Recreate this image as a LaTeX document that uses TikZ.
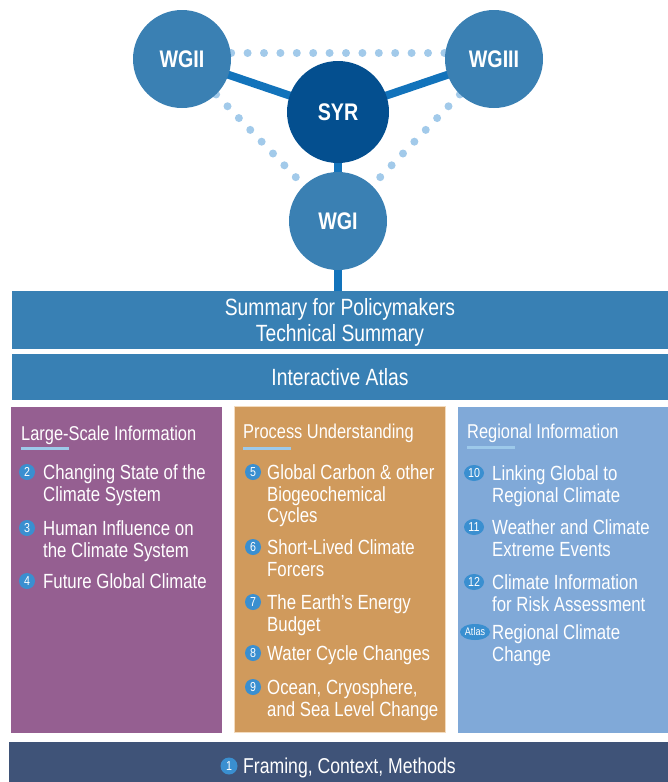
\documentclass[tikz,border=0pt]{standalone}
\usepackage{fontspec}
\setmainfont[FakeStretch=0.82]{Liberation Sans}
\usetikzlibrary{shapes.geometric,backgrounds}
\definecolor{barblue}{HTML}{3880B4}
\definecolor{circblue}{HTML}{3A80B3}
\definecolor{syrblue}{HTML}{044F8F}
\definecolor{linkblue}{HTML}{1273BB}
\definecolor{dotblue}{HTML}{A2CAEA}
\definecolor{colpurple}{HTML}{955F91}
\definecolor{colorange}{HTML}{D09A5C}
\definecolor{collblue}{HTML}{80A9D8}
\definecolor{navy}{HTML}{3F5378}
\definecolor{bulletblue}{HTML}{3A8FD0}
\definecolor{ulblue}{HTML}{9DC9EA}
\definecolor{orangeedge}{HTML}{F3DBBE}
\newcommand\mlines[1]{\begin{tabular}[t]{@{}l@{}}#1\end{tabular}}
\tikzset{
  wg/.style={circle, fill=circblue, text=white, inner sep=0pt, minimum size=98pt,
    font=\bfseries\fontsize{24}{24}\selectfont},
  solidlink/.style={draw=linkblue, line width=8pt},
  dotlink/.style={draw=dotblue, line width=8pt, line cap=round, dash pattern=on 0pt off 16.4pt},
  bar/.style={rectangle, fill=barblue, text=white, inner sep=0pt, align=center,
    font=\fontsize{23.5}{27}\selectfont},
  colbox/.style={rectangle, inner sep=0pt},
  hdr/.style={anchor=base west, inner sep=0pt, text=white, font=\fontsize{20}{22}\selectfont},
  uline/.style={draw=ulblue, line width=3pt},
  bul/.style={circle, fill=bulletblue, text=white, inner sep=0pt, minimum size=16pt,
    font=\fontsize{13}{13}\selectfont},
  bulw/.style={ellipse, fill=bulletblue, text=white, inner sep=0pt, minimum width=20pt,
    minimum height=16pt, font=\fontsize{13}{13}\selectfont},
  itm/.style={anchor=base west, inner sep=0pt, text=white,
    font=\fontsize{20.5}{21.8}\selectfont},
}
\begin{document}
\begin{tikzpicture}[x=1pt, y=-1pt]
\useasboundingbox (0,0) rectangle (668,782);
% circles
\node[wg] (wgii) at (182,59) {WGII};
\node[wg] (wgiii) at (494,59) {WGIII};
\node[wg, fill=syrblue, minimum size=102pt] (syr) at (338,112) {SYR};
\node[wg] (wgi) at (338,221) {WGI};
% bars
\node[bar, minimum width=656pt, minimum height=58pt] (spm) at (340,320)
  {\raisebox{-3.5pt}[\height][\depth]{\begin{tabular}{@{}c@{}}Summary for Policymakers\\[-1pt]Technical Summary\end{tabular}}};
\node[bar, minimum width=656pt, minimum height=46pt] (atlas) at (340,377) {Interactive Atlas};
% columns
\node[colbox, fill=colpurple, minimum width=211pt, minimum height=326pt] (colL) at (116.5,570) {};
\node[colbox, fill=colorange, draw=orangeedge, line width=1pt, minimum width=211pt, minimum height=326pt] (colM) at (340.25,569.5) {};
\node[colbox, fill=collblue, minimum width=210pt, minimum height=326pt] (colR) at (563,570) {};
\node[colbox, fill=navy, minimum width=659pt, minimum height=48pt] (base) at (338.5,766) {};
% connectors
\begin{scope}[on background layer]
\draw[dotlink] ([yshift=6pt]wgii.center) -- ([yshift=6pt]wgiii.center);
\draw[dotlink] (wgii.center) -- (wgi.center);
\draw[dotlink] (wgiii.center) -- (wgi.center);
\draw[solidlink] (wgii.center) -- (syr.center);
\draw[solidlink] (syr.center) -- (wgiii.center);
\draw[solidlink] (syr.center) -- (wgi.center);
\draw[solidlink] (wgi.center) -- (wgi.center |- spm.north);
\end{scope}
% headers
\node[hdr] (h1) at (21,440) {Large-Scale Information};
\draw[uline] ([yshift=-8pt]h1.base west) -- ++(48,0);
\node[hdr] (h2) at (243,438) {Process Understanding};
\draw[uline] ([yshift=-10pt]h2.base west) -- ++(48,0);
\node[hdr] (h3) at (467,438) {Regional Information};
\draw[uline] ([yshift=-9pt]h3.base west) -- ++(48,0);
% left column
\node[bul] (b2) at (27,472) {2};
\node[itm] (t2) at (43,479.3) {\mlines{Changing State of the\\Climate System}};
\node[bul] (b3) at (27,528) {3};
\node[itm] (t3) at (43,535.3) {\mlines{Human Influence on\\the Climate System}};
\node[bul] (b4) at (27,581) {4};
\node[itm] (t4) at (43,588.3) {Future Global Climate};
% middle column
\node[bul] (b5) at (253,472) {5};
\node[itm] (t5) at (267,479.3) {\mlines{Global Carbon \& other\\Biogeochemical\\Cycles}};
\node[bul] (b6) at (253,547) {6};
\node[itm] (t6) at (267,554.3) {\mlines{Short-Lived Climate\\Forcers}};
\node[bul] (b7) at (253,602) {7};
\node[itm] (t7) at (267,609.3) {\mlines{The Earth’s Energy\\Budget}};
\node[bul] (b8) at (253,653) {8};
\node[itm] (t8) at (267,660.3) {Water Cycle Changes};
\node[bul] (b9) at (253,687) {9};
\node[itm] (t9) at (267,694.3) {\mlines{Ocean, Cryosphere,\\and Sea Level Change}};
% right column
\node[bulw] (b10) at (474,473) {10};
\node[itm] (t10) at (492,480.3) {\mlines{Linking Global to\\Regional Climate}};
\node[bulw] (b11) at (474,527) {11};
\node[itm] (t11) at (492,534.3) {\mlines{Weather and Climate\\Extreme Events}};
\node[bulw] (b12) at (474,582) {12};
\node[itm] (t12) at (492,589.3) {\mlines{Climate Information\\for Risk Assessment}};
\node[bulw, minimum width=30pt, minimum height=16pt, font=\fontsize{11}{11}\selectfont] (ba) at (475,632) {Atlas};
\node[itm] (ta) at (492,639.3) {\mlines{Regional Climate\\Change}};
% bottom
\node[bul, minimum size=17pt] (b1) at (229,766) {1};
\node[itm, font=\fontsize{21.5}{22}\selectfont] (t1) at (243,773.7) {Framing, Context, Methods};
\end{tikzpicture}
\end{document}
